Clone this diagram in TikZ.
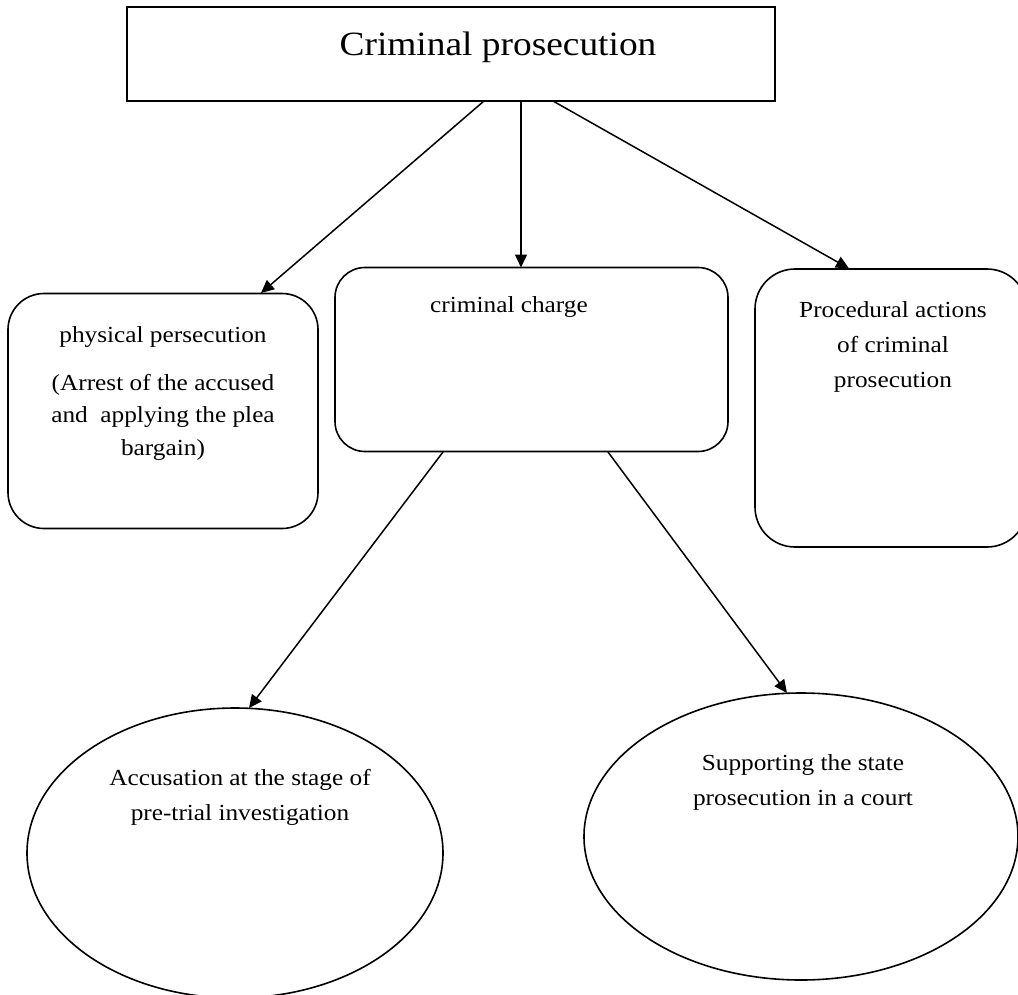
\documentclass[tikz,border=0pt]{standalone}
\usepackage{fontspec}
\setmainfont[FakeStretch=1.1]{Liberation Serif}
\usetikzlibrary{arrows.meta,shapes.geometric}
\begin{document}
\begin{tikzpicture}[x=1pt,y=-1pt,
  frame/.style={draw=black,line width=2pt,rectangle,inner sep=0pt},
  rbox/.style={draw=black,line width=1.6pt,rectangle,inner sep=0pt},
  oval/.style={draw=black,line width=1.6pt,ellipse,inner sep=0pt},
  txt/.style={inner sep=0pt,anchor=base,font=\fontsize{23}{23}\selectfont},
  conn/.style={line width=1.5pt,-{Triangle[length=13pt,width=12pt]}}]
\useasboundingbox (0,0) rectangle (1018,994);
\begin{scope}
\clip (0,0) rectangle (1018,994);
% boxes
\node[frame,minimum width=648pt,minimum height=94pt] (top) at (451,54) {};
\node[rbox,rounded corners=36pt,minimum width=310pt,minimum height=235pt] (phys) at (163,411) {};
\node[rbox,rounded corners=30pt,minimum width=393pt,minimum height=184pt] (charge) at (531.5,359.5) {};
\node[rbox,rounded corners=40pt,minimum width=272pt,minimum height=278pt] (proc) at (891,408) {};
\node[oval,minimum width=416pt,minimum height=290pt] (acc) at (235,853) {};
\node[oval,minimum width=434pt,minimum height=287pt] (sup) at (801,836.5) {};
% texts
\node[txt,font=\fontsize{34}{34}\selectfont] (ttop) at (498,55) {Criminal prosecution};
\node[txt] (t1a) at (163,342) {physical persecution};
\node[txt] (t1b) at (163,390) {(Arrest of the accused};
\node[txt] (t1c) at (163,422) {and\ \ applying the plea};
\node[txt] (t1d) at (163,455) {bargain)};
\node[txt] (t2) at (509,312) {criminal charge};
\node[txt] (t3a) at (893,317) {Procedural actions};
\node[txt] (t3b) at (893,352) {of criminal};
\node[txt] (t3c) at (893,387) {prosecution};
\node[txt] (t4a) at (240,785) {Accusation at the stage of};
\node[txt] (t4b) at (240,820) {pre-trial investigation};
\node[txt] (t5a) at (803,770) {Supporting the state};
\node[txt] (t5b) at (803,805) {prosecution in a court};
% connectors
\coordinate (s1) at (484,101);
\coordinate (e1) at (261,293);
\coordinate (s2) at (521,101);
\coordinate (e2) at (521,267.5);
\coordinate (s3) at (553,101);
\coordinate (e3) at (849,268.5);
\coordinate (s4) at (443,452);
\coordinate (e4) at (249,708);
\coordinate (s5) at (608,452);
\coordinate (e5) at (787,693);
\draw[conn] (s1) -- (e1);
\draw[conn] (s2) -- (e2);
\draw[conn] (s3) -- (e3);
\draw[conn] (s4) -- (e4);
\draw[conn] (s5) -- (e5);
\end{scope}
\end{tikzpicture}
\end{document}
